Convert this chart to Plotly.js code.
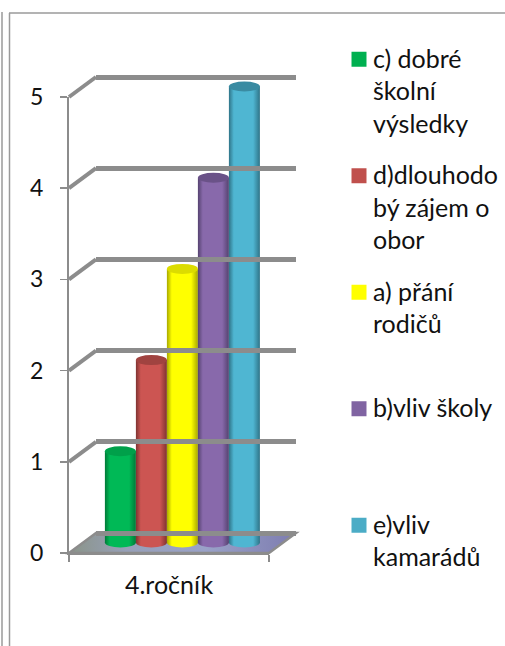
<!DOCTYPE html>
<html><head><meta charset="utf-8">
<script src="https://cdn.plot.ly/plotly-3.0.1.min.js"></script>
<style>html,body{margin:0;padding:0;background:#fff}#c{width:505px;height:646px}</style>
</head><body><div id="c"></div>
<script>
const category = ['4.ročník'];
const seriesNames = ['c) dobré<br>školní<br>výsledky','d)dlouhodo<br>bý zájem o<br>obor','a) přání<br>rodičů<br>&nbsp;','b)vliv školy<br>&nbsp;<br>&nbsp;','e)vliv<br>kamarádů<br>&nbsp;'];
const seriesValues = [1,2,3,4,5];
const seriesColors = ['#00b050','#c0504d','#ffff00','#8064a2','#4bacc6'];
const glowColors = ['#00b956','#cc5552','#ffff00','#8869ab','#4fb6d2'];
const edgeColors = ['#007a38','#7f3331','#a8a800','#554270','#2f7488'];
const capColors = ['#00a04a','#a04340','#dcdc00','#6a5288','#3a8ba2'];
const yTicks = [0,1,2,3,4,5];

const W=505,H=646;
const dx=(a,b)=>[a/W,b/W], dy=(t,b)=>[1-b/H,1-t/H], px=x=>x/W, py=y=>1-y/H;
const FONT='Lato, sans-serif', GREY='#8c8c8c', U=91.2;
const yFront=v=>553-v*U, yBack=v=>533-v*U, yMid=v=>542.5-v*U;

const traces=[
 {type:'scatter',mode:'none',x:category,y:[0],xaxis:'x',yaxis:'y',showlegend:false,hoverinfo:'skip'},
 {type:'scatter',mode:'none',x:category,y:[0],xaxis:'x3',yaxis:'y3',showlegend:false,hoverinfo:'skip'}
];
seriesNames.forEach((n,i)=>traces.push({type:'bar',name:n,legendgroup:'g'+i,x:category,y:[seriesValues[i]],xaxis:'x2',yaxis:'y2',
  marker:{color:seriesColors[i],line:{width:0}}}));

const BG=0.225, bw=(1-BG)/5, cx=i=>-(1-BG)/2+(i+.5)*bw, capR=5/U;
const shapes=[];
[[2,12,2,646],[9.5,13,9.5,646],[9,13,505,13]].forEach(p=>{
  shapes.push({type:'line',xref:'paper',yref:'paper',x0:px(p[0]),y0:py(p[1]),x1:px(p[2]),y1:py(p[3]),line:{color:'#9a9a9a',width:1.5},layer:'below'});
});
const floorIdx=shapes.length;
shapes.push({type:'path',xref:'paper',yref:'paper',layer:'below',fillcolor:'#9a9fc4',line:{color:GREY,width:2.5},
 path:`M ${px(69)} ${py(553)} L ${px(269)} ${py(553)} L ${px(296)} ${py(533)} L ${px(96)} ${py(533)} Z`});
yTicks.slice(1).forEach(v=>shapes.push({type:'line',xref:'paper',yref:'paper',layer:'below',x0:px(69),y0:py(yFront(v)),x1:px(96),y1:py(yBack(v)),line:{color:GREY,width:4}}));
const baseStart=shapes.length;
seriesValues.forEach((v,i)=>shapes.push({type:'circle',xref:'x2',yref:'y2',layer:'below',x0:cx(i)-bw/2,x1:cx(i)+bw/2,y0:-capR,y1:capR,fillcolor:seriesColors[i],line:{width:0}}));
seriesValues.forEach((v,i)=>shapes.push({type:'circle',xref:'x2',yref:'y2',layer:'above',x0:cx(i)-bw/2,x1:cx(i)+bw/2,y0:v-capR,y1:v+capR,fillcolor:capColors[i],line:{width:0}}));

const hidden={visible:true,showgrid:false,zeroline:false,showline:false,showticklabels:false,ticks:''};
const layout={
 width:W,height:H,autosize:false,margin:{l:0,r:0,t:0,b:0},paper_bgcolor:'#fff',plot_bgcolor:'rgba(0,0,0,0)',
 font:{family:FONT,size:24,color:'#111'},barmode:'group',bargap:BG,bargroupgap:0,
 shapes,
 showlegend:true,
 legend:{x:px(333),xanchor:'left',y:py(35),yanchor:'top',traceorder:'grouped',tracegroupgap:16,valign:'top',itemwidth:30,itemclick:false,bgcolor:'rgba(0,0,0,0)',font:{family:FONT,size:25,color:'#111'}},
 xaxis:{domain:dx(69,269),anchor:'y',type:'category',range:[-.5,.5],tickson:'boundaries',ticks:'outside',ticklen:7,tickwidth:1.5,tickcolor:GREY,showline:true,linecolor:GREY,linewidth:2,showgrid:false,zeroline:false,ticklabelstandoff:9,tickfont:{family:FONT,size:25,color:'#111'}},
 yaxis:{domain:dy(yFront(5),553),anchor:'x',range:[0,5],tickvals:yTicks,ticks:'outside',ticklen:7,tickwidth:1.5,tickcolor:GREY,showline:true,linecolor:GREY,linewidth:2,showgrid:false,zeroline:false,ticklabelstandoff:12,tickfont:{family:FONT,size:23,color:'#111'}},
 xaxis2:Object.assign({},hidden,{domain:dx(82.4,282.4),anchor:'y2',type:'category',range:[-.5,.5]}),
 yaxis2:Object.assign({},hidden,{domain:dy(yMid(5.2),yMid(-.2)),anchor:'x2',range:[-.2,5.2]}),
 xaxis3:Object.assign({},hidden,{domain:dx(96,296),anchor:'y3',type:'category',range:[-.5,.5]}),
 yaxis3:Object.assign({},hidden,{domain:dy(yBack(5.1),yBack(-.1)),anchor:'x3',range:[-.1,5.1],tickvals:yTicks,showgrid:true,gridcolor:GREY,gridwidth:5})
};

Plotly.newPlot('c',traces,layout,{displayModeBar:false,staticPlot:true}).then(gd=>{
 const svg=gd.querySelector('.main-svg');
 const defs=svg.querySelector('defs');
 const NS='http://www.w3.org/2000/svg';
 const grad=(id,stops)=>{const g=document.createElementNS(NS,'linearGradient');g.id=id;g.setAttribute('x1','0');g.setAttribute('y1','0');g.setAttribute('x2','1');g.setAttribute('y2','0');
  stops.forEach(s=>{const e=document.createElementNS(NS,'stop');e.setAttribute('offset',s[0]);e.setAttribute('stop-color',s[1]);g.appendChild(e);});defs.appendChild(g);return 'url(#'+id+')';};
 const fills=glowColors.map((c,i)=>grad('cyl'+i,[[0,edgeColors[i]],[.16,c],[.78,c],[1,edgeColors[i]]]));
 gd.querySelectorAll('.barlayer .trace.bars').forEach((t,i)=>t.querySelectorAll('path').forEach(p=>p.style.fill=fills[i]));
 seriesValues.forEach((v,i)=>{const p=gd.querySelector(`.shapelayer path[data-index="${baseStart+i}"]`);if(p)p.style.fill=fills[i];});
 const f=gd.querySelector(`.shapelayer path[data-index="${floorIdx}"]`);
 if(f)f.style.fill=grad('floor',[[0,'#8a9488'],[.25,'#97a0b8'],[.6,'#9aa2c8'],[1,'#7d7cb0']]);
 gd.querySelectorAll('.legend .legendpoints path').forEach(p=>{
   p.style.transform='translate(26px,1.5px) scale(1.25)';
 });
});
</script></body></html>
